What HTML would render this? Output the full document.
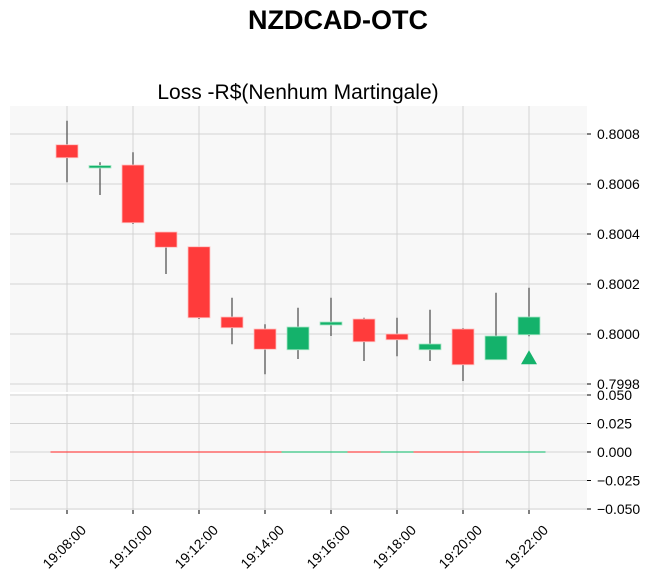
<!DOCTYPE html>
<html><head><meta charset="utf-8"><style>
body{margin:0;background:#fff;width:656px;height:583px;overflow:hidden;font-family:"Liberation Sans",Arial,sans-serif}
</style></head><body>
<svg id="c" width="656" height="583" xmlns="http://www.w3.org/2000/svg">
<text x="338" y="29" text-anchor="middle" font-size="27" font-weight="bold" fill="#000">NZDCAD-OTC</text>
<text x="298" y="99" text-anchor="middle" font-size="21" fill="#000">Loss -R$(Nenhum Martingale)</text>
<rect x="10" y="106" width="577" height="286" fill="#f8f8f8"/>
<rect x="10" y="394" width="577" height="116" fill="#f8f8f8"/>
<g id="grid"></g><g id="marks"></g><g id="axes"></g>
</svg>
<script>
const times=["19:08","19:09","19:10","19:11","19:12","19:13","19:14","19:15","19:16","19:17","19:18","19:19","19:20","19:21","19:22"];
const opens=[0.800757,0.800666,0.800676,0.800408,0.800349,0.800068,0.800020,0.799937,0.800036,0.800060,0.800000,0.799937,0.800020,0.799897,0.799997];
const closes=[0.800705,0.800674,0.800445,0.800347,0.800065,0.800025,0.799939,0.800028,0.800048,0.799969,0.799977,0.799960,0.799877,0.799992,0.800068];
const highs=[0.800853,0.800687,0.800727,0.800408,0.800349,0.800145,0.800039,0.800105,0.800145,0.800065,0.800065,0.800097,0.800024,0.800165,0.800185];
const lows=[0.800607,0.800556,0.800440,0.800240,0.800060,0.799959,0.799839,0.799900,0.799992,0.799892,0.799911,0.799892,0.799812,0.799897,0.799991];
const volumes=[0,0,0,0,0,0,0,0,0,0,0,0,0,0,0];
const priceTicks=[0.7998,0.8000,0.8002,0.8004,0.8006,0.8008];
const volTicks=[-0.05,-0.025,0,0.025,0.05];
const xTickLabels=["19:08:00","19:10:00","19:12:00","19:14:00","19:16:00","19:18:00","19:20:00","19:22:00"];
const signalIndex=14;
const NS="http://www.w3.org/2000/svg";
function mins(t){const p=t.split(":");return +p[0]*60+ +p[1]+(p[2]?+p[2]/60:0);}
const t0=mins("19:08");
const X=t=>67+(mins(t)-t0)*33;
const Y=v=>334-(v-0.8)*250000;
const YV=v=>452-v*1140;
function el(tag,a,parent,txt){const e=document.createElementNS(NS,tag);for(const k in a)e.setAttribute(k,a[k]);if(txt!=null)e.textContent=txt;document.getElementById(parent).appendChild(e);return e;}
priceTicks.forEach(v=>{const y=Y(v);
 const g=el('line',{x1:10,x2:587,y1:y,y2:y,stroke:'#d3d3d3','stroke-width':1},'grid');
 
 
 el('line',{x1:587,x2:591,y1:y,y2:y,stroke:'#000'},'axes');
 const t=el('text',{x:597,y:y+5,'font-size':14,fill:'#000'},'axes',v.toFixed(4));
 
 });
volTicks.forEach(v=>{const y=YV(v);
 const g=el('line',{x1:10,x2:587,y1:y,y2:y,stroke:'#d3d3d3','stroke-width':1},'grid');
 
 
 el('line',{x1:587,x2:591,y1:y,y2:y,stroke:'#000'},'axes');
 const t=el('text',{x:597,y:y+5,'font-size':14,fill:'#000'},'axes',(v<0?'\u2212':'')+Math.abs(v).toFixed(3));
 
 });
xTickLabels.forEach(l=>{const x=X(l);
 el('line',{x1:x,x2:x,y1:106,y2:392,stroke:'#d3d3d3'},'grid');
 el('line',{x1:x,x2:x,y1:394,y2:510,stroke:'#d3d3d3'},'grid');
 el('line',{x1:x,x2:x,y1:510,y2:514,stroke:'#000'},'axes');
 const ax=x+20, ay=531;
 const t=el('text',{x:ax,y:ay,'font-size':14,fill:'#000','text-anchor':'end',transform:`rotate(-45 ${ax} ${ay})`},'axes',l);
 
 });
times.forEach((t,i)=>{const x=X(t);const up=closes[i]>=opens[i];const col=up?'#14b26b':'#ff3b3b';
 const w=el('line',{x1:x,x2:x,y1:Y(highs[i]),y2:Y(lows[i]),stroke:'#555','stroke-width':1.3},'marks');
 
 
 const top=Y(Math.max(opens[i],closes[i])),bot=Y(Math.min(opens[i],closes[i]));
 const b=el('rect',{x:x-11,y:top,width:22,height:Math.max(bot-top,2.5),fill:col,stroke:up?'#a8e6c6':'#ffc0c0','stroke-width':0.8},'marks');
 
 
 const vup=i===0?false:closes[i]>=closes[i-1];
 const v=el('rect',{x:x-16.5,y:Math.min(YV(volumes[i]),452)-0.6,width:33,height:Math.max(Math.abs(YV(volumes[i])-452),1.2),fill:vup?'#2ec27e':'#ff4545'},'marks');
 
 });
{const x=X(times[signalIndex]);const y=Y(lows[signalIndex])+21;
 const tr=el('polygon',{points:`${x},${y-7} ${x+8},${y+7} ${x-8},${y+7}`,fill:'#14b26b'},'marks');
 
 }
</script>
</body></html>
